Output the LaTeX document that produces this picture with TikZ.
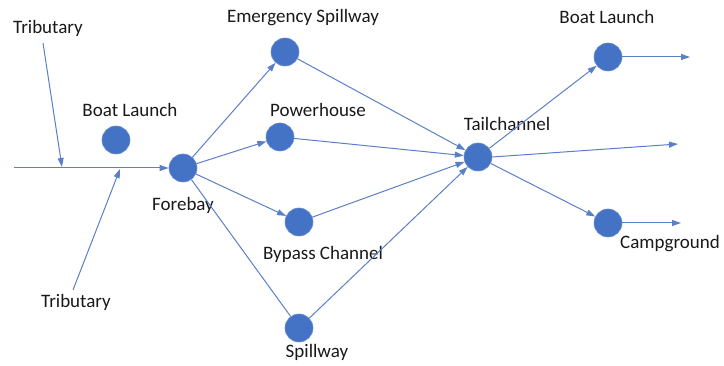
\documentclass[tikz,border=0pt]{standalone}
\usepackage{fontspec}
\setmainfont{Carlito}
\usetikzlibrary{arrows.meta}
\definecolor{nodeblue}{HTML}{4472C4}
\definecolor{lineblue}{HTML}{5B7FC7}
\tikzset{
  site/.style={circle, fill=nodeblue, draw=nodeblue!80!white, line width=0.6pt, minimum size=28pt, inner sep=0pt},
  lbl/.style={font=\fontsize{19}{21}\selectfont, text=black!90, inner sep=0pt},
  flow/.style={draw=lineblue, line width=1pt, -{Triangle[length=9pt,width=6pt]}},
  plain/.style={draw=lineblue, line width=1pt}
}
\begin{document}
\begin{tikzpicture}[x=1pt,y=-1pt]
\useasboundingbox (0,0) rectangle (724,366);
% nodes
\node[site] (bl1) at (116,140) {};
\node[site] (fb) at (183,168) {};
\node[site] (es) at (285,52) {};
\node[site] (ph) at (280,137) {};
\node[site] (bc) at (299,222) {};
\node[site] (sw) at (299,328) {};
\node[site] (tc) at (478,157) {};
\node[site] (bl2) at (608,57) {};
\node[site] (cg) at (608,223) {};
% labels
\node[lbl] (tribT) at (48,28) {Tributary};
\node[lbl] (tribB) at (76,302) {Tributary};
\node[lbl] (lbl1) at (130,110) {Boat Launch};
\node[lbl] (lfb) at (183,205) {Forebay};
\node[lbl] (les) at (303,18) {Emergency Spillway};
\node[lbl] (lph) at (318,110) {Powerhouse};
\node[lbl] (lbc) at (323,254) {Bypass Channel};
\node[lbl] (lsw) at (317,352) {Spillway};
\node[lbl] (ltc) at (507,124) {Tailchannel};
\node[lbl] (lbl2) at (607,17) {Boat Launch};
\node[lbl] (lcg) at (670,244) {Campground};
% coordinates
\coordinate (riv) at (14,168);
\coordinate (tT0) at (43,43);
\coordinate (tT1) at (62,167);
\coordinate (tB0) at (73,290);
\coordinate (tB1) at (120,169);
\coordinate (o1) at (690,57);
\coordinate (o2) at (678,144);
\coordinate (o3) at (681,223);
% connectors
\draw[flow] (riv) -- (fb);
\draw[flow] (tT0) -- (tT1);
\draw[flow] (tB0) -- (tB1);
\draw[flow] (fb) -- (es);
\draw[flow] (fb) -- (ph);
\draw[flow] (fb) -- (bc);
\draw[plain] (fb) -- (sw);
\draw[flow] (es) -- (tc);
\draw[flow] (ph) -- (tc);
\draw[flow] (bc) -- (tc);
\draw[flow] (sw) -- (tc);
\draw[flow] (tc) -- (bl2);
\draw[flow] (tc) -- (cg);
\draw[flow] (bl2) -- (o1);
\draw[flow] (tc.east) -- (o2);
\draw[flow] (cg) -- (o3);
\end{tikzpicture}
\end{document}
